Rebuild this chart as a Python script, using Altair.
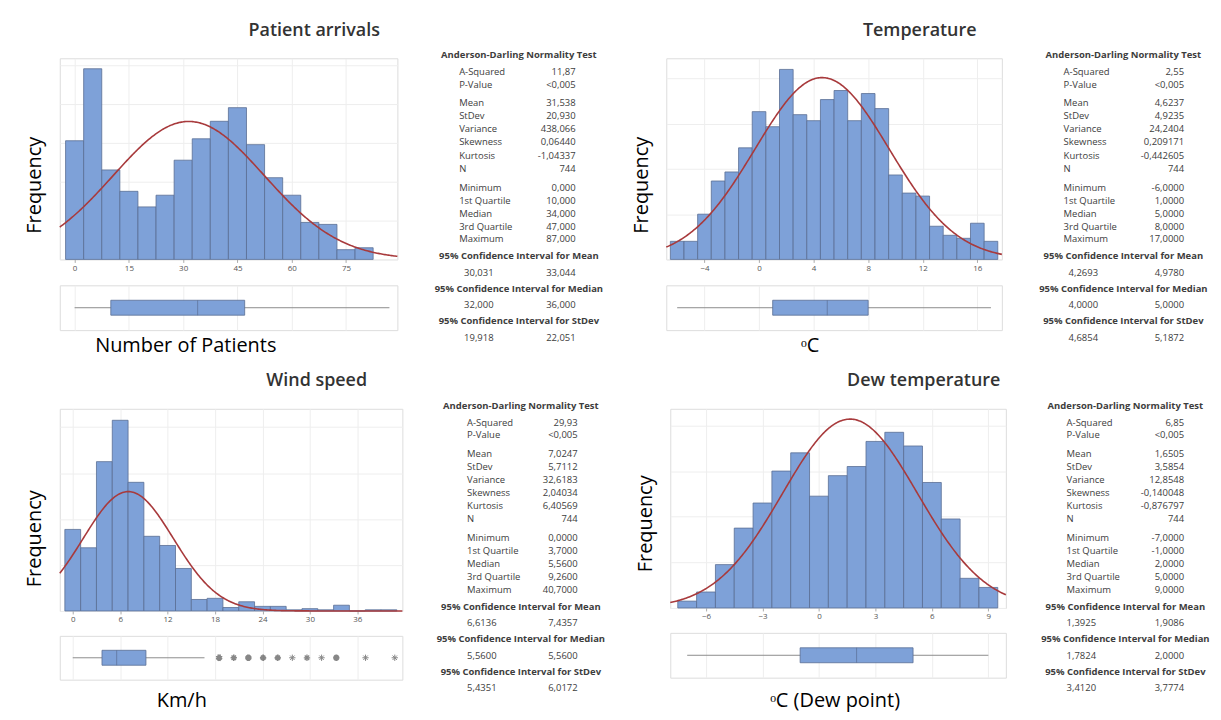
import altair as alt
import pandas as pd

FONT = "Open Sans"
BAR_FILL = "#7ea1d8"
BAR_STROKE = "#5a6e94"
CURVE = "#a83a3c"
GRID = "#eeeeee"
FRAME = "#c9c9c9"
TXT = "#3d3d3d"

# ---------------- data ----------------
# Patient arrivals
pa_centers = [0, 5, 10, 15, 20, 25, 30, 35, 40, 45, 50, 55, 60, 65, 70, 75, 80]
pa_counts = [61, 98, 46, 35, 27, 33, 51, 62, 71, 78, 59, 42, 33, 19, 18, 5, 6]
pa_ticks = [0, 15, 30, 45, 60, 75]
pa_box = [0, 10, 34, 47, 87]  # min, q1, median, q3, max whisker
pa_ad = ["11,87", "<0,005"]
pa_desc = ["31,538", "20,930", "438,066", "0,06440", "-1,04337", "744"]
pa_quant = ["0,000", "10,000", "34,000", "47,000", "87,000"]
pa_ci = [["30,031", "33,044"], ["32,000", "36,000"], ["19,918", "22,051"]]
pa_mean, pa_sd = 31.538, 20.930

# Temperature
te_centers = [-6, -5, -4, -3, -2, -1, 0, 1, 2, 3, 4, 5, 6, 7, 8, 9, 10, 11, 12, 13, 14, 15, 16, 17]
te_counts = [6, 6, 15, 26, 29, 37, 49, 44, 63, 48, 46, 53, 56, 46, 55, 50, 28, 22, 21, 11, 8, 7, 12, 6]
te_ticks = [-4, 0, 4, 8, 12, 16]
te_box = [-6, 1, 5, 8, 17]
te_ad = ["2,55", "<0,005"]
te_desc = ["4,6237", "4,9235", "24,2404", "0,209171", "-0,442605", "744"]
te_quant = ["-6,0000", "1,0000", "5,0000", "8,0000", "17,0000"]
te_ci = [["4,2693", "4,9780"], ["4,0000", "5,0000"], ["4,6854", "5,1872"]]
te_mean, te_sd = 4.6237, 4.9235

# Wind speed
ws_centers = [0, 2, 4, 6, 8, 10, 12, 14, 16, 18, 20, 22, 24, 26, 28, 30, 32, 34, 36, 38, 40]
ws_counts = [71, 55, 130, 166, 112, 65, 57, 37, 10, 11, 3, 8, 4, 4, 1, 2, 1, 5, 0, 1, 1]
ws_ticks = [0, 6, 12, 18, 24, 30, 36]
ws_box = [0, 3.7, 5.56, 9.26, 16.67]
ws_out = [18.52, 20.37, 22.22, 24.08, 25.93, 27.78, 29.63, 31.48, 33.34, 37.04, 40.74]
ws_out_n = [11, 3, 8, 4, 4, 1, 2, 1, 5, 1, 1]
ws_ad = ["29,93", "<0,005"]
ws_desc = ["7,0247", "5,7112", "32,6183", "2,04034", "6,40569", "744"]
ws_quant = ["0,0000", "3,7000", "5,5600", "9,2600", "40,7000"]
ws_ci = [["6,6136", "7,4357"], ["5,5600", "5,5600"], ["5,4351", "6,0172"]]
ws_mean, ws_sd = 7.0247, 5.7112

# Dew temperature
dw_centers = [-7, -6, -5, -4, -3, -2, -1, 0, 1, 2, 3, 4, 5, 6, 7, 8, 9]
dw_counts = [3, 7, 19, 35, 46, 60, 68, 49, 58, 62, 73, 77, 71, 55, 39, 13, 9]
dw_ticks = [-6, -3, 0, 3, 6, 9]
dw_box = [-7, -1, 2, 5, 9]
dw_ad = ["6,85", "<0,005"]
dw_desc = ["1,6505", "3,5854", "12,8548", "-0,140048", "-0,876797", "744"]
dw_quant = ["-7,0000", "-1,0000", "2,0000", "5,0000", "9,0000"]
dw_ci = [["1,3925", "1,9086"], ["1,7824", "2,0000"], ["3,4120", "3,7774"]]
dw_mean, dw_sd = 1.6505, 3.5854

N_OBS = 744
ad_labels = ["A-Squared", "P-Value"]
desc_labels = ["Mean", "StDev", "Variance", "Skewness", "Kurtosis", "N"]
quant_labels = ["Minimum", "1st Quartile", "Median", "3rd Quartile", "Maximum"]
ci_titles = ["95% Confidence Interval for Mean",
             "95% Confidence Interval for Median",
             "95% Confidence Interval for StDev"]


def hist_chart(centers, counts, binw, mean, sd, xdom, ydom, ticks, ystep, w, h, title_y):
    df = pd.DataFrame({"c": centers, "n": counts})
    xs = alt.Scale(domain=xdom, nice=False, zero=False)
    ys = alt.Scale(domain=ydom, nice=False)
    xaxis = alt.Axis(values=ticks, title=None, labelFontSize=8, labelColor="#555",
                     labelFont=FONT, ticks=True, tickSize=3, tickColor="#aaa",
                     labelPadding=2, domain=False, grid=True, gridColor=GRID)
    yaxis = alt.Axis(title="Frequency", labels=False, ticks=False, domain=False,
                     grid=True, gridColor=GRID,
                     values=list(range(0, int(ydom[1]) + 1, ystep)),
                     titleFontSize=20, titleFont=FONT, titleColor="black",
                     titleFontWeight="normal", titlePadding=15, minExtent=0,
                     titleY=title_y)
    bars = alt.Chart(df).transform_calculate(
        lo=f"datum.c - {binw / 2}", hi=f"datum.c + {binw / 2}"
    ).mark_bar(fill=BAR_FILL, stroke=BAR_STROKE, strokeWidth=0.8).encode(
        x=alt.X("lo:Q", scale=xs, axis=xaxis),
        x2="hi:Q",
        y=alt.Y("n:Q", scale=ys, axis=yaxis),
        y2=alt.datum(0),
    )
    step = (xdom[1] - xdom[0]) / 300
    curve = alt.Chart(alt.sequence(xdom[0], xdom[1] + step / 2, step, as_="t")).transform_calculate(
        f=f"{N_OBS * binw}/({sd}*sqrt(2*PI))*exp(-0.5*pow((datum.t-{mean})/{sd},2))"
    ).mark_line(color=CURVE, strokeWidth=1.6).encode(
        x=alt.X("t:Q", scale=xs),
        y=alt.Y("f:Q", scale=ys),
    )
    return alt.layer(bars, curve).properties(width=w, height=h)


def box_chart(stats, xdom, ticks, w, h, xtitle, title_x, title_pad, outliers=None, out_n=None):
    mn, q1, med, q3, mx = stats
    df = pd.DataFrame({"row": ["a"], "mn": [mn], "q1": [q1], "med": [med], "q3": [q3], "mx": [mx]})
    xs = alt.Scale(domain=xdom, nice=False, zero=False)
    yenc = alt.Y("row:N", axis=None)
    xaxis = alt.Axis(values=ticks, labels=False, ticks=False, domain=False, grid=True,
                     gridColor=GRID, title=xtitle, titleFontSize=20, titleFont=FONT,
                     titleColor="black", titleFontWeight="normal", titleX=title_x,
                     titlePadding=title_pad)
    whisk = alt.Chart(df).mark_rule(color="#8c8c8c", strokeWidth=1).encode(
        x=alt.X("mn:Q", scale=xs, axis=xaxis), x2="mx:Q", y=yenc)
    box = alt.Chart(df).mark_bar(size=15, fill=BAR_FILL, stroke=BAR_STROKE, strokeWidth=0.8).encode(
        x=alt.X("q1:Q", scale=xs), x2="q3:Q", y=yenc)
    medl = alt.Chart(df).mark_tick(thickness=1, size=15, color=BAR_STROKE).encode(
        x=alt.X("med:Q", scale=xs), y=yenc)
    layers = [whisk, box, medl]
    if outliers is not None:
        odf = pd.DataFrame({"row": ["a"] * len(outliers), "v": outliers, "n": out_n})
        star = "M-1,0L1,0M0,-1L0,1M-0.7,-0.7L0.7,0.7M-0.7,0.7L0.7,-0.7"
        pts = alt.Chart(odf).mark_point(shape=star, filled=False, color="#555", size=40).encode(
            x=alt.X("v:Q", scale=xs), y=yenc,
            strokeWidth=alt.StrokeWidth("n:Q", scale=alt.Scale(domain=[1, 11], range=[1, 3.5]), legend=None))
        layers.append(pts)
    return alt.layer(*layers).properties(width=w, height=h)


def stats_chart(ad, desc, quant, ci, hdr_x, lab_x, val_x, cil_x, w=190, h=290):
    rows = []
    y = 0.0

    def add(kind, label, value, dy):
        nonlocal y
        y += dy
        rows.append({"kind": kind, "label": label, "value": value, "y": y - 3})

    add("hdr", "Anderson-Darling Normality Test", "", 0)
    for i, (l, v) in enumerate(zip(ad_labels, ad)):
        add("row", l, v, 17 if i == 0 else 12.5)
    for i, (l, v) in enumerate(zip(desc_labels, desc)):
        add("row", l, v, 18.5 if i == 0 else 13.2)
    for i, (l, v) in enumerate(zip(quant_labels, quant)):
        add("row", l, v, 19 if i == 0 else 13)
    for i, (t, (a, b)) in enumerate(zip(ci_titles, ci)):
        add("hdr", t, "", 17 if i == 0 else 16)
        add("ci", a, b, 16.5)
    df = pd.DataFrame(rows)
    ys = alt.Scale(domain=[0, h], reverse=True, nice=False)
    base = alt.Chart(df).encode(y=alt.Y("y:Q", scale=ys, axis=None))
    common = dict(font=FONT, fontSize=9.5, color=TXT, baseline="middle")
    hdr = base.transform_filter("datum.kind == 'hdr'").mark_text(
        align="center", fontWeight="bold", **common).encode(x=alt.value(hdr_x), text="label:N")
    lab = base.transform_filter("datum.kind == 'row'").mark_text(
        align="left", **common).encode(x=alt.value(lab_x), text="label:N")
    val = base.transform_filter("datum.kind == 'row'").mark_text(
        align="right", **common).encode(x=alt.value(val_x), text="value:N")
    cil = base.transform_filter("datum.kind == 'ci'").mark_text(
        align="left", **common).encode(x=alt.value(cil_x), text="label:N")
    cir = base.transform_filter("datum.kind == 'ci'").mark_text(
        align="right", **common).encode(x=alt.value(val_x), text="value:N")
    return alt.layer(hdr, lab, val, cil, cir).properties(
        width=w, height=h, view=alt.ViewConfig(stroke="transparent"))


def panel(title, hist, box, stats, gap_hb, gap_stats, title_dx=0):
    left = alt.vconcat(hist, box, spacing=gap_hb, bounds="flush")
    return alt.hconcat(left, stats, spacing=gap_stats, title=alt.TitleParams(
        title, fontSize=18, font=FONT, fontWeight=600, color="#333333",
        anchor="middle", offset=10, dx=title_dx))


p1 = panel(
    "Patient arrivals",
    hist_chart(pa_centers, pa_counts, 5, pa_mean, pa_sd, [-4.1, 89.2], [0, 103.4], pa_ticks, 20, 339, 202, 127),
    box_chart(pa_box, [-4.1, 89.2], pa_ticks, 339, 45, "Number of Patients", 126, 5),
    stats_chart(pa_ad, pa_desc, pa_quant, pa_ci, 105, 45, 162, 50),
    26, 12)

p2 = panel(
    "Temperature",
    hist_chart(te_centers, te_counts, 1, te_mean, te_sd, [-6.8, 17.8], [0, 66.7], te_ticks, 15, 337, 202, 127),
    box_chart(te_box, [-6.8, 17.8], te_ticks, 337, 45, "ᵒC", 144, 5),
    stats_chart(te_ad, te_desc, te_quant, te_ci, 105, 45, 166, 50),
    26, 12)

p3 = panel(
    "Wind speed",
    hist_chart(ws_centers, ws_counts, 2, ws_mean, ws_sd, [-1.64, 41.7], [0, 176], ws_ticks, 40, 344, 203, 130),
    box_chart(ws_box, [-1.64, 41.7], ws_ticks, 344, 44, "Km/h", 122, 11, ws_out, ws_out_n),
    stats_chart(ws_ad, ws_desc, ws_quant, ws_ci, 102, 48, 159, 48),
    25, 12)

p4 = panel(
    "Dew temperature",
    hist_chart(dw_centers, dw_counts, 1, dw_mean, dw_sd, [-7.9, 9.93], [0, 87.3], dw_ticks, 20, 337, 200, 115),
    box_chart(dw_box, [-7.9, 9.93], dw_ticks, 337, 45, "ᵒC (Dew point)", 165, 13),
    stats_chart(dw_ad, dw_desc, dw_quant, dw_ci, 103, 44, 162, 44),
    25, 12)

row1 = alt.hconcat(p1, p2, spacing=26)
row2 = alt.hconcat(p3, p4, spacing=25)

chart = alt.vconcat(row1, row2, spacing=16).properties(
    padding={"left": 16, "top": 12, "right": 0, "bottom": 0}
).configure_view(stroke=FRAME, strokeWidth=1).configure(background="white")

chart.save("out.html", embed_options={"renderer": "svg", "actions": False})
